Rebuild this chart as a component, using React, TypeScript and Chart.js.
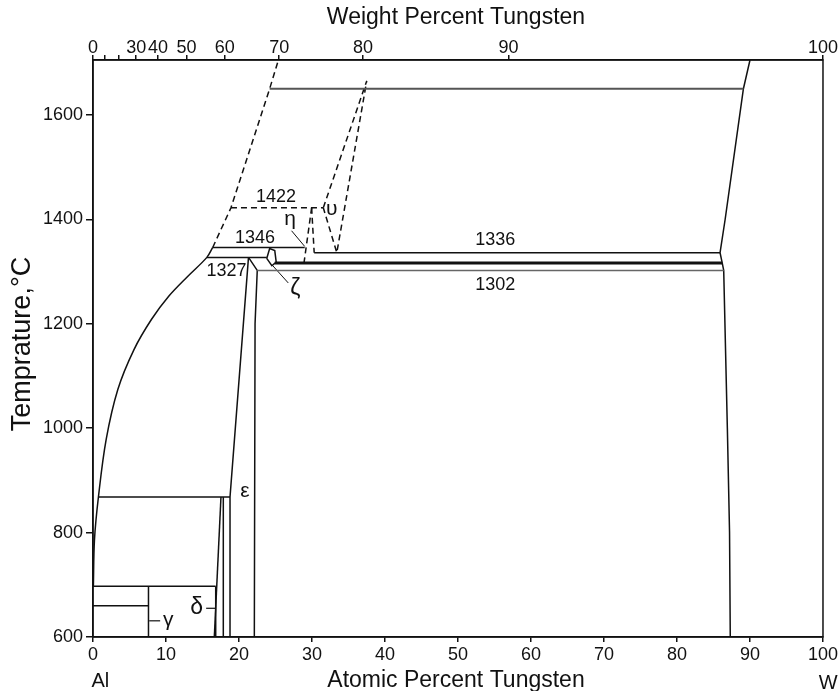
import React, { useEffect, useRef } from "react";
import { Chart, registerables } from "chart.js";

Chart.register(...registerables);

type P = [number, number];

// ---- axis ticks ----
const atomicTicks = [0, 10, 20, 30, 40, 50, 60, 70, 80, 90, 100];
const tempTicks = [600, 800, 1000, 1200, 1400, 1600];
const weightTicks = [0, 10, 20, 30, 40, 50, 60, 70, 80, 90, 100];
const weightLabels = ["0", "", "", "30", "40", "50", "60", "70", "80", "90", "100"];
const M_W = 183.84;
const M_AL = 26.98;

// ---- phase boundaries (atomic % W, temperature °C) ----
const liquidusSolid: P[] = [[0.05, 697], [0.2, 786], [0.75, 869], [1.8, 978], [3.4, 1074], [5.6, 1150], [8.0, 1208], [10.4, 1253], [13.0, 1291], [15.6, 1327], [16.4, 1346]];
const liquidusDashed: P[] = [[16.4, 1346], [18.9, 1422], [24.2, 1650], [25.4, 1705]];
const line1650: P[] = [[24.2, 1650], [89.1, 1650]];
const line1422: P[] = [[18.9, 1422], [31.55, 1422]];
const etaLeft: P[] = [[29.95, 1422], [28.9, 1316]];
const etaRight: P[] = [[29.95, 1422], [30.3, 1336]];
const upsilon: P[] = [[31.55, 1422], [37.5, 1665], [33.4, 1336], [31.55, 1422]];
const line1346: P[] = [[16.4, 1346], [29.0, 1346]];
const line1336: P[] = [[30.3, 1336], [85.9, 1336]];
const line1327: P[] = [[15.6, 1327], [23.8, 1327]];
const line1316: P[] = [[24.9, 1316], [86.2, 1316]];
const line1302: P[] = [[22.5, 1302], [86.4, 1302]];
const zeta: P[] = [[23.8, 1325], [24.2, 1344], [24.9, 1340], [25.1, 1318], [24.5, 1311], [23.8, 1325]];
const epsLeft: P[] = [[18.77, 600], [18.77, 868], [21.3, 1327]];
const epsRight: P[] = [[22.1, 600], [22.2, 1200], [22.5, 1302], [21.3, 1327]];
const line870: P[] = [[0.7, 868], [18.77, 868]];
const slantA: P[] = [[16.62, 600], [17.53, 868]];
const vertB: P[] = [[17.85, 600], [17.85, 868]];
const line697: P[] = [[0, 697], [16.81, 697]];
const deltaV: P[] = [[16.81, 600], [16.81, 697]];
const line660: P[] = [[0, 660], [7.6, 660]];
const gammaV: P[] = [[7.6, 600], [7.6, 697]];
const wBoundary: P[] = [[90, 1705], [89.1, 1650], [86.6, 1400], [85.9, 1336], [86.2, 1316], [86.4, 1302], [86.9, 1000], [87.2, 800], [87.3, 600]];
const etaPtr: P[] = [[27.2, 1378], [29.0, 1348]];
const zetaPtr: P[] = [[24.5, 1313], [26.75, 1278]];
const deltaPtr: P[] = [[15.5, 655], [16.81, 655]];
const gammaPtr: P[] = [[7.7, 631], [9.2, 631]];

// ---- in-plot labels ----
const labelTexts = ["1422", "1346", "1327", "1336", "1302", "η", "υ", "ζ", "ε", "δ", "γ"];
const labelX = [25.07, 22.2, 18.3, 55.1, 55.1, 27.0, 32.7, 27.7, 20.8, 14.2, 10.3];
const labelT = [1442, 1365, 1301, 1361, 1275, 1400, 1419, 1267, 880, 656, 632];
const labelSize = [18, 18, 18, 18, 18, 21, 21, 23, 21, 23, 21];

const FONT = '"Liberation Sans", Arial, Helvetica, sans-serif';

const weightToAtomic = (w: number) => {
  if (w <= 0) return 0;
  if (w >= 100) return 100;
  const nw = w / M_W;
  const nal = (100 - w) / M_AL;
  return (100 * nw) / (nw + nal);
};

const ds = (data: P[], opts: any = {}) => ({
  data: data.map(([x, y]) => ({ x, y })),
  showLine: true,
  borderColor: "#111",
  borderWidth: 1.5,
  pointRadius: 0,
  fill: false,
  tension: 0,
  ...opts,
});

export default function App() {
  const ref = useRef<HTMLCanvasElement | null>(null);
  useEffect(() => {
    if (!ref.current) return;
    const dashed = { borderDash: [6, 4] };
    const textPlugin = {
      id: "texts",
      afterDraw(chart: any) {
        const { ctx, chartArea: ca, scales } = chart;
        const xs = scales.x;
        const ys = scales.y;
        ctx.save();
        ctx.strokeStyle = "#111";
        ctx.lineWidth = 1.5;
        ctx.strokeRect(ca.left, ca.top, ca.right - ca.left, ca.bottom - ca.top);
        ctx.fillStyle = "#111";
        ctx.textAlign = "center";
        ctx.textBaseline = "middle";
        labelTexts.forEach((t, i) => {
          ctx.font = `${labelSize[i]}px ${FONT}`;
          ctx.fillText(t, xs.getPixelForValue(labelX[i]), ys.getPixelForValue(labelT[i]));
        });
        const midX = (ca.left + ca.right) / 2 - 2;
        ctx.font = `23px ${FONT}`;
        ctx.fillText("Weight Percent Tungsten", midX, 18);
        ctx.fillText("Atomic Percent Tungsten", midX, ca.bottom + 44);
        ctx.font = `20px ${FONT}`;
        ctx.fillText("Al", xs.getPixelForValue(1), ca.bottom + 44);
        ctx.fillText("W", xs.getPixelForValue(100.7), ca.bottom + 46);
        ctx.save();
        ctx.translate(23, 344);
        ctx.rotate(-Math.PI / 2);
        ctx.font = `27px ${FONT}`;
        ctx.fillText("Temprature,°C", 0, 0);
        ctx.restore();
        ctx.restore();
      },
    };
    const tickFont = { family: FONT, size: 18 };
    const chart = new Chart(ref.current, {
      type: "scatter",
      data: {
        datasets: [
          ds(liquidusSolid, { tension: 0.35 }),
          ds(liquidusDashed, dashed),
          ds(line1650, { borderColor: "#555", borderWidth: 2 }),
          ds(line1422, dashed),
          ds(etaLeft, dashed),
          ds(etaRight, dashed),
          ds(upsilon, dashed),
          ds(line1346),
          ds(line1336),
          ds(line1327),
          ds(line1316, { borderWidth: 3 }),
          ds(line1302, { borderColor: "#666" }),
          ds(zeta),
          ds(epsLeft),
          ds(epsRight),
          ds(line870),
          ds(slantA),
          ds(vertB),
          ds(line697),
          ds(deltaV),
          ds(line660),
          ds(gammaV),
          ds(wBoundary),
          ds(etaPtr, { borderWidth: 1 }),
          ds(zetaPtr, { borderWidth: 1 }),
          ds(deltaPtr, { borderWidth: 1.2 }),
          ds(gammaPtr, { borderWidth: 1.2 }),
        ] as any,
      },
      options: {
        animation: false,
        responsive: false,
        layout: { padding: { left: 0, right: 17, top: 0, bottom: 0 } },
        plugins: { legend: { display: false }, tooltip: { enabled: false } },
        scales: {
          x: {
            type: "linear",
            position: "bottom",
            min: 0,
            max: 100,
            afterBuildTicks: (axis: any) => {
              axis.ticks = atomicTicks.map((v) => ({ value: v }));
            },
            afterFit: (s: any) => {
              s.height = 54;
            },
            grid: { display: true, drawOnChartArea: false, tickLength: 5, color: "#111", lineWidth: 1.5 },
            border: { display: true, color: "#111", width: 1.5 },
            ticks: { autoSkip: false, maxRotation: 0, padding: 2, color: "#111", font: tickFont, callback: (v: any) => String(v) },
          },
          x2: {
            type: "linear",
            position: "top",
            min: 0,
            max: 100,
            afterBuildTicks: (axis: any) => {
              axis.ticks = weightTicks.map((w) => ({ value: weightToAtomic(w) }));
            },
            afterFit: (s: any) => {
              s.height = 60;
            },
            grid: { display: true, drawOnChartArea: false, tickLength: 5, color: "#111", lineWidth: 1.5 },
            border: { display: true, color: "#111", width: 1.5 },
            ticks: {
              autoSkip: false,
              maxRotation: 0,
              padding: -4,
              color: "#111",
              font: tickFont,
              callback: (_v: any, i: number) => weightLabels[i],
            },
          },
          y: {
            type: "linear",
            min: 600,
            max: 1705,
            afterBuildTicks: (axis: any) => {
              axis.ticks = tempTicks.map((v) => ({ value: v }));
            },
            afterFit: (s: any) => {
              s.width = 93;
            },
            grid: { display: true, drawOnChartArea: false, tickLength: 7, color: "#111", lineWidth: 1.5 },
            border: { display: true, color: "#111", width: 1.5 },
            ticks: { autoSkip: false, padding: 3, color: "#111", font: tickFont, callback: (v: any) => String(v) },
          },
        },
      } as any,
      plugins: [textPlugin],
    });
    return () => chart.destroy();
  }, []);
  return (
    <div style={{ position: "fixed", left: 0, top: 0, width: 840, height: 691, background: "#fff" }}>
      <canvas ref={ref} width={840} height={691} style={{ display: "block", width: 840, height: 691 }} />
    </div>
  );
}
